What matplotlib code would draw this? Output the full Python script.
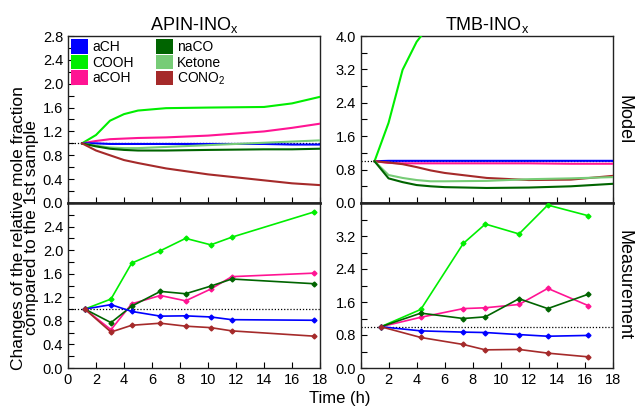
import matplotlib.pyplot as plt
from matplotlib.patches import Patch
from matplotlib.ticker import MultipleLocator

plt.rcParams['font.family'] = ['Liberation Sans', 'DejaVu Sans']

colors = {'aCH': '#0000ff', 'COOH': '#00ee00', 'aCOH': '#ff1493',
          'naCO': '#006400', 'Ketone': '#77cc77', 'CONO2': '#a52a2a'}

# APIN model
apin_mod_t = [1, 2, 3, 4, 5, 7, 10, 14, 16, 18]
apin_mod = {
    'COOH':   [1.0, 1.14, 1.38, 1.49, 1.55, 1.59, 1.60, 1.61, 1.67, 1.78],
    'aCOH':   [1.0, 1.04, 1.07, 1.08, 1.09, 1.10, 1.13, 1.20, 1.26, 1.33],
    'aCH':    [1.0, 1.0, 0.99, 0.99, 0.99, 0.99, 0.99, 0.99, 0.98, 0.98],
    'Ketone': [1.0, 0.96, 0.93, 0.92, 0.92, 0.94, 0.97, 1.01, 1.03, 1.05],
    'naCO':   [1.0, 0.95, 0.91, 0.89, 0.88, 0.88, 0.89, 0.90, 0.90, 0.91],
    'CONO2':  [1.0, 0.88, 0.80, 0.72, 0.67, 0.58, 0.48, 0.38, 0.33, 0.30],
}

# TMB model
tmb_mod_t = [1, 2, 3, 4, 5, 6, 9, 12, 15, 18]
tmb_mod = {
    'COOH':   [1.0, 1.92, 3.19, 3.86, 4.3, 4.6, 5.0, 5.2, 5.4, 5.6],
    'aCH':    [1.0, 1.01, 1.01, 1.01, 1.01, 1.01, 1.01, 1.01, 1.01, 1.01],
    'aCOH':   [1.0, 0.96, 0.95, 0.95, 0.95, 0.95, 0.95, 0.95, 0.94, 0.94],
    'CONO2':  [1.0, 0.97, 0.93, 0.86, 0.78, 0.72, 0.60, 0.55, 0.56, 0.65],
    'Ketone': [1.0, 0.67, 0.60, 0.55, 0.52, 0.52, 0.53, 0.57, 0.59, 0.62],
    'naCO':   [1.0, 0.59, 0.50, 0.43, 0.40, 0.38, 0.36, 0.37, 0.40, 0.46],
}

# APIN measurement
apin_meas_t = [1.2, 3.07, 4.55, 6.6, 8.4, 10.2, 11.7, 17.6]
apin_meas = {
    'COOH':  [1.0, 1.17, 1.78, 1.99, 2.20, 2.09, 2.22, 2.65],
    'aCOH':  [1.0, 0.65, 1.09, 1.23, 1.14, 1.34, 1.55, 1.61],
    'naCO':  [1.0, 0.77, 1.05, 1.30, 1.26, 1.39, 1.51, 1.43],
    'aCH':   [1.0, 1.075, 0.96, 0.88, 0.885, 0.866, 0.82, 0.81],
    'CONO2': [1.0, 0.61, 0.725, 0.76, 0.71, 0.685, 0.63, 0.54],
}

# TMB measurement
tmb_meas_t = [1.45, 4.3, 7.33, 8.9, 11.3, 13.35, 16.25]
tmb_meas = {
    'COOH':  [1.0, 1.42, 3.02, 3.49, 3.25, 3.95, 3.69],
    'aCOH':  [1.0, 1.23, 1.44, 1.46, 1.54, 1.93, 1.51],
    'naCO':  [1.0, 1.33, 1.20, 1.24, 1.68, 1.44, 1.79],
    'aCH':   [1.0, 0.90, 0.87, 0.86, 0.81, 0.77, 0.79],
    'CONO2': [1.0, 0.74, 0.57, 0.44, 0.45, 0.36, 0.27],
}

apin_ticks = [0.0, 0.4, 0.8, 1.2, 1.6, 2.0, 2.4, 2.8]
tmb_ticks = [0.0, 0.8, 1.6, 2.4, 3.2, 4.0]

fig = plt.figure(figsize=(6.38, 4.09), dpi=100)
W, H = 638, 409


def make_ax(x0, x1, y0, y1):
    return fig.add_axes([x0 / W, 1 - y1 / H, (x1 - x0) / W, (y1 - y0) / H])


ax_tl = make_ax(68, 320, 36, 203)
ax_bl = make_ax(68, 320, 203, 368)
ax_tr = make_ax(360.5, 613, 36, 203)
ax_br = make_ax(360.5, 613, 203, 368)

for ax in [ax_tl, ax_bl, ax_tr, ax_br]:
    ax.set_xlim(0, 18)
    ax.xaxis.set_major_locator(MultipleLocator(2))
    ax.tick_params(direction='in', labelsize=10.5, length=4, width=0.8,
                   top=False, right=False)
    ax.tick_params(which='minor', direction='in', length=4, width=0.8)
    for s in ax.spines.values():
        s.set_linewidth(1.0)
        s.set_color('#222222')
    ax.axhline(1.0, color='black', ls=(0, (1, 1.5)), lw=0.9, zorder=1)

for ax, ticks, minor in [(ax_tl, apin_ticks, 0.2), (ax_bl, apin_ticks, 0.2),
                         (ax_tr, tmb_ticks, 0.4), (ax_br, tmb_ticks, 0.4)]:
    if ax in (ax_bl, ax_br):
        # top label hidden where the panels meet
        ax.set_yticks(ticks[:-1])
    else:
        ax.set_yticks(ticks)
    ax.yaxis.set_minor_locator(MultipleLocator(minor))
    ax.set_ylim(ticks[0], ticks[-1])

for ax in [ax_tl, ax_tr]:
    ax.tick_params(labelbottom=False)
    ax.spines['bottom'].set_linewidth(1.8)
for ax in [ax_bl, ax_br]:
    ax.spines['top'].set_linewidth(1.8)

for name, vals in apin_mod.items():
    ax_tl.plot(apin_mod_t, vals, color=colors[name], lw=1.5, zorder=3)
for name, vals in tmb_mod.items():
    ax_tr.plot(tmb_mod_t, vals, color=colors[name], lw=1.5, zorder=3)
for name, vals in apin_meas.items():
    ax_bl.plot(apin_meas_t, vals, color=colors[name], lw=1.2, marker='D',
               ms=2.5, zorder=3)
for name, vals in tmb_meas.items():
    ax_br.plot(tmb_meas_t, vals, color=colors[name], lw=1.2, marker='D',
               ms=2.5, zorder=3)

legend_names = ['aCH', 'COOH', 'aCOH', 'naCO', 'Ketone', 'CONO2']
legend_labels = ['aCH', 'COOH', 'aCOH', 'naCO', 'Ketone',
                 'CONO$_\\mathregular{2}$']
handles = [Patch(facecolor=colors[n], edgecolor='none') for n in legend_names]
ax_tl.legend(handles, legend_labels, ncol=2, loc='upper left', frameon=False,
             fontsize=10, handlelength=1.2, handleheight=1.2, handletextpad=0.3,
             labelspacing=0.05, columnspacing=1.6, borderaxespad=0.15,
             borderpad=0.1)

ax_tl.set_title('APIN-INO$_\\mathregular{x}$', fontsize=13, pad=4)
ax_tr.set_title('TMB-INO$_\\mathregular{x}$', fontsize=13, pad=4)

fig.text(624 / W, 1 - 120 / H, 'Model', rotation=-90, fontsize=13,
         ha='center', va='center')
fig.text(624 / W, 1 - 285 / H, 'Measurement', rotation=-90, fontsize=13,
         ha='center', va='center')
fig.text(25 / W, 1 - 228 / H,
         'Changes of the relative mole fraction\ncompared to the 1st sample',
         rotation=90, fontsize=12.5, ha='center', va='center', linespacing=0.8)
fig.text(340 / W, 1 - 399 / H, 'Time (h)', fontsize=12, ha='center',
         va='center')

fig.savefig('out.png', dpi=100)
